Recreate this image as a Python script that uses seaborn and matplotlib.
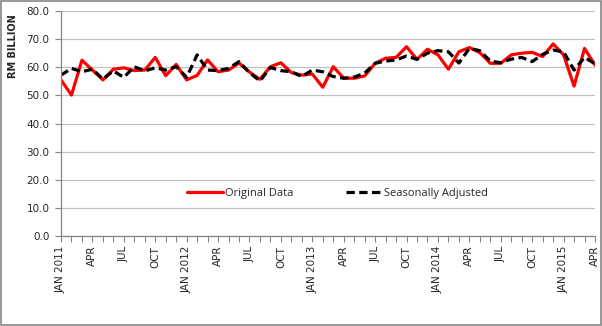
import matplotlib
matplotlib.use("Agg")
import matplotlib.pyplot as plt
import seaborn as sns
import pandas as pd
import numpy as np
from matplotlib.patches import Rectangle
from matplotlib.ticker import FixedLocator

original = [55.5, 50.1, 62.5, 59.0, 55.5, 59.3, 59.8, 58.8, 59.0, 63.5, 57.0, 61.0,
            55.5, 57.1, 62.6, 58.4, 59.0, 61.5, 58.3, 55.7, 60.2, 61.6, 58.1, 57.2,
            57.6, 52.9, 60.2, 56.1, 56.1, 56.9, 61.4, 63.2, 63.5, 67.3, 62.8, 66.4,
            64.4, 59.3, 65.5, 67.0, 65.2, 61.4, 61.4, 64.4, 65.0, 65.3, 63.8, 68.3,
            64.4, 53.3, 66.7, 60.8]
seasonal = [57.2, 59.6, 58.4, 59.3, 55.8, 58.7, 56.4, 60.2, 58.7, 59.8, 59.0, 60.2,
            56.4, 64.4, 59.0, 58.8, 59.6, 62.0, 58.1, 55.1, 59.9, 58.8, 58.4, 56.7,
            59.0, 58.4, 56.7, 56.1, 56.5, 57.9, 61.4, 62.2, 62.6, 64.0, 62.8, 65.0,
            65.9, 65.5, 61.5, 66.7, 65.9, 62.2, 61.6, 62.9, 63.5, 62.0, 64.6, 66.1,
            65.5, 59.0, 63.5, 61.2]
tick_labels = ["JAN 2011", "APR", "JUL", "OCT", "JAN 2012", "APR", "JUL", "OCT",
               "JAN 2013", "APR", "JUL", "OCT", "JAN 2014", "APR", "JUL", "OCT",
               "JAN 2015", "APR"]
y_ticks = [0, 10, 20, 30, 40, 50, 60, 70, 80]
series_names = ["Original Data", "Seasonally Adjusted"]

months = np.arange(len(original))
df = pd.DataFrame({"month": np.concatenate([months, months]),
                   "value": original + seasonal,
                   "series": [series_names[0]] * len(original) + [series_names[1]] * len(seasonal)})

sns.set_style("white")
plt.rcParams['font.family'] = ['DejaVu Sans']

fig = plt.figure(figsize=(6.02, 3.26), dpi=100)
ax = fig.add_axes([61/602, 90/326, 534/602, 225/326])

sns.lineplot(data=df, x="month", y="value", hue="series", style="series",
             palette={series_names[0]: "#ff0000", series_names[1]: "#000000"},
             dashes={series_names[0]: "", series_names[1]: (2.6, 1.4)},
             linewidth=2.3, ax=ax, legend=True)

ax.set_xlim(0, len(original) - 1)
ax.set_ylim(0, 80)
ax.set_yticks(y_ticks)
ax.set_yticklabels([f"{v:.1f}" for v in y_ticks], fontsize=7.5)

ax.set_xticks(np.arange(0, len(original), 3))
ax.set_xticklabels(tick_labels, rotation=90, fontsize=7.5, va="top", ha="center")
ax.xaxis.set_minor_locator(FixedLocator(months))

ax.tick_params(axis="x", which="both", direction="out", length=4, color="#868686", width=0.8, pad=3, bottom=True)
ax.tick_params(axis="y", which="major", direction="out", length=4.3, color="#868686", width=0.8, pad=4, left=True)

ax.grid(axis="y", color="#c0c0c0", linewidth=0.9)
ax.grid(axis="x", visible=False)
ax.set_axisbelow(True)
for s in ["top", "right"]:
    ax.spines[s].set_visible(False)
for s in ["left", "bottom"]:
    ax.spines[s].set_color("#868686")
    ax.spines[s].set_linewidth(0.9)

ax.set_xlabel("")
ax.set_ylabel("RM BILLION", fontsize=7, fontweight="bold")
ax.yaxis.set_label_coords(-0.0805, 0.842)

handles, labels = ax.get_legend_handles_labels()
leg = ax.legend(handles, labels, ncol=2, frameon=False, loc="center",
                bbox_to_anchor=(0.518, 0.19), handlelength=3.2,
                columnspacing=4.7, handletextpad=0.25,
                prop={"family": "Open Sans", "size": 8})

fig.patches.append(Rectangle((0.001, 0.002), 0.997, 0.996, transform=fig.transFigure,
                             fill=False, edgecolor="#868686", linewidth=1.2))

fig.savefig("out.png", dpi=100)
